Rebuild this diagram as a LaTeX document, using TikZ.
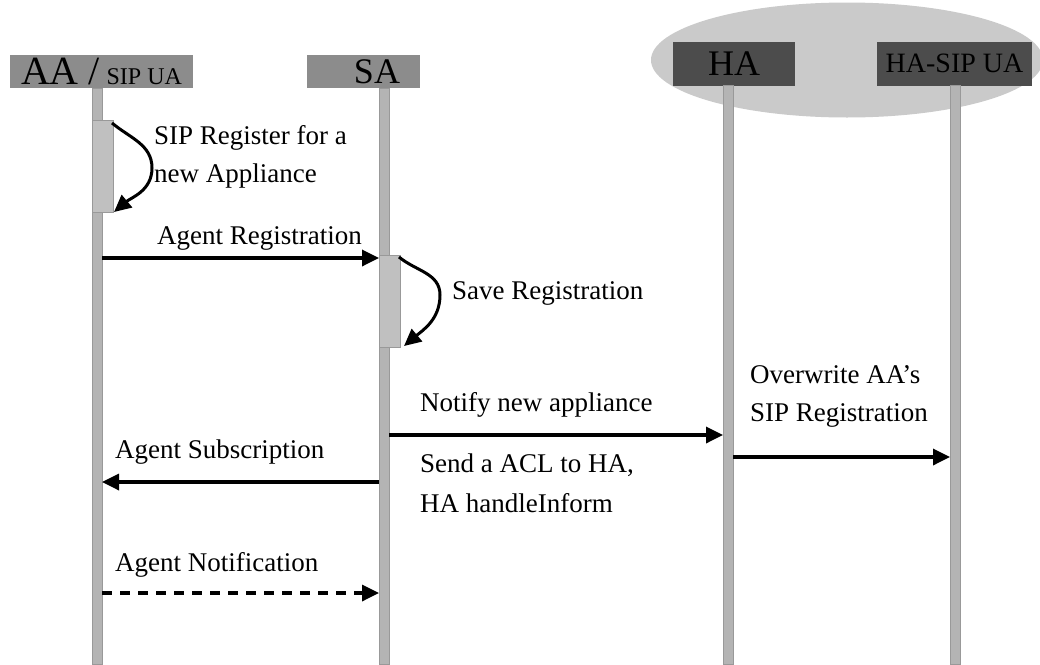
\documentclass[tikz,border=0pt]{standalone}
\usepackage{fontspec}
\setmainfont{Liberation Serif}
\usetikzlibrary{arrows.meta,shapes.geometric}

\definecolor{hdrgray}{HTML}{8C8C8C}
\definecolor{hdrdark}{HTML}{4C4C4C}
\definecolor{groupgray}{HTML}{CACACA}
\definecolor{lifegray}{HTML}{B4B4B4}
\definecolor{actgray}{HTML}{C0C0C0}

\tikzset{
  hdr/.style={fill=hdrgray, draw=none, inner sep=0pt, minimum height=33pt},
  hdrdk/.style={fill=hdrdark, draw=none, inner sep=0pt, minimum height=44pt},
  lifeline/.style={fill=lifegray, draw=gray!80, line width=0.6pt},
  activation/.style={fill=actgray, draw=gray!80, line width=0.6pt},
  msg/.style={line width=3.4pt, -{Triangle[length=17pt,width=16pt]}},
  selfmsg/.style={line width=3pt, -{Triangle[length=17pt,width=16pt]}},
  asyncmsg/.style={msg, dash pattern=on 10pt off 8pt},
  lbl/.style={font=\fontsize{27}{38}\selectfont, inner sep=0pt, anchor=west, align=left},
}

\begin{document}
\begin{tikzpicture}[x=1pt,y=-1pt]
  \useasboundingbox (0,0) rectangle (1040,664);

  % home-side group holding HA and its SIP user agent
  \node[ellipse, fill=groupgray, draw=none, minimum width=392pt, minimum height=115pt] (home) at (847,60) {};

  % participant headers
  \node[hdr, minimum width=183pt] (aa) at (101.5,71.5)
    {\fontsize{40}{40}\selectfont AA /\,\fontsize{24}{24}\selectfont SIP UA};
  \node[hdr, text width=73pt, align=right, inner xsep=20pt] (sa) at (363.5,71.5)
    {\fontsize{36}{36}\selectfont SA};
  \node[hdrdk, minimum width=122pt] (ha) at (734,63.5)
    {\fontsize{36}{36}\selectfont HA};
  \node[hdrdk, minimum width=155pt] (hasip) at (954.5,63.5)
    {\fontsize{28}{28}\selectfont HA-SIP UA};

  % lifelines
  \fill[lifeline] (92,88) rectangle (102,664);
  \fill[lifeline] (379,88) rectangle (389,664);
  \fill[lifeline] (723,85) rectangle (733,664);
  \fill[lifeline] (950,85) rectangle (960,664);

  % activation bars
  \fill[activation] (92,120) rectangle (113,212);
  \fill[activation] (379,255) rectangle (400,347);

  % message end points
  \coordinate (aaS1) at (112,123);
  \coordinate (aaS1m) at (152,168);
  \coordinate (aaS1e) at (114,212);
  \coordinate (aaR) at (102,258);
  \coordinate (saL) at (379,258);
  \coordinate (saS1) at (399,257);
  \coordinate (saS1m) at (440,295);
  \coordinate (saS1e) at (404,346);
  \coordinate (saN) at (389,435);
  \coordinate (haN) at (723,435);
  \coordinate (haO) at (733,457);
  \coordinate (hasipO) at (950,457);
  \coordinate (saSub) at (379,482);
  \coordinate (aaSub) at (102,482);
  \coordinate (aaNot) at (102,593);
  \coordinate (saNot) at (379,593);

  % messages
  \draw[selfmsg] (aaS1) to[out=-40,in=90] (aaS1m) to[out=-90,in=40] (aaS1e);
  \draw[msg] (aaR) -- (saL);
  \draw[selfmsg] (saS1) to[out=-40,in=90] (saS1m) to[out=-90,in=40] (saS1e);
  \draw[msg] (saN) -- (haN);
  \draw[msg] (haO) -- (hasipO);
  \draw[msg] (saSub) -- (aaSub);
  \draw[asyncmsg] (aaNot) -- (saNot);

  % message labels
  \node[lbl] (t1) at (154,157) {SIP Register for a\\new Appliance};
  \node[lbl] (t2) at (157,238) {Agent Registration};
  \node[lbl] (t3) at (452,293) {Save Registration};
  \node[lbl] (t4) at (420,405) {Notify new appliance};
  \node[lbl] (t5) at (420,465) {Send a ACL to HA,};
  \node[lbl] (t6) at (420,503) {HA handleInform};
  \node[lbl] (t7) at (750,396) {Overwrite AA’s\\SIP Registration};
  \node[lbl] (t8) at (115,452) {Agent Subscription};
  \node[lbl] (t9) at (115,565) {Agent Notification};
\end{tikzpicture}
\end{document}
